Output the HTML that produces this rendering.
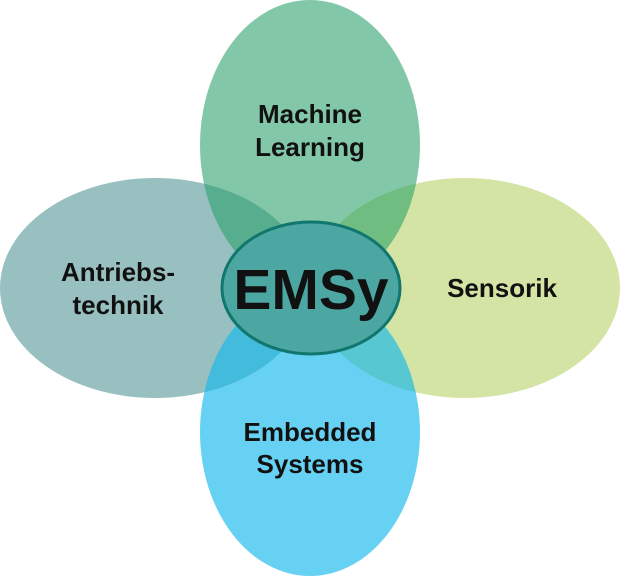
<!DOCTYPE html>
<html><head><meta charset="utf-8"><style>html,body{margin:0;padding:0;background:#fff}svg{display:block}</style></head>
<body>
<svg width="620" height="578" viewBox="0 0 620 578" xmlns="http://www.w3.org/2000/svg">
<g>
<ellipse cx="155" cy="288" rx="155" ry="110" fill="rgb(70,140,140)" fill-opacity="0.55"/>
<ellipse cx="465" cy="288" rx="155" ry="110" fill="rgb(175,205,90)" fill-opacity="0.55"/>
<ellipse cx="310" cy="145" rx="110" ry="145" fill="rgb(40,160,105)" fill-opacity="0.58"/>
<ellipse cx="310" cy="432" rx="110" ry="144" fill="rgb(20,185,235)" fill-opacity="0.65"/>
<ellipse cx="311" cy="288" rx="89" ry="66" fill="#4ca7a2" stroke="#11766d" stroke-width="3"/>
</g>
<g font-family="Liberation Sans, sans-serif" font-weight="bold" fill="#111" text-anchor="middle">
<text x="310" y="123" font-size="26">Machine</text>
<text x="310" y="156" font-size="26">Learning</text>
<text x="118" y="281" font-size="26">Antriebs-</text>
<text x="118" y="314" font-size="26">technik</text>
<text x="502" y="297" font-size="26">Sensorik</text>
<text x="310" y="441" font-size="26">Embedded</text>
<text x="310" y="473" font-size="26">Systems</text>
<text x="311" y="309" font-size="57">EMSy</text>
</g>
</svg>
</body></html>
